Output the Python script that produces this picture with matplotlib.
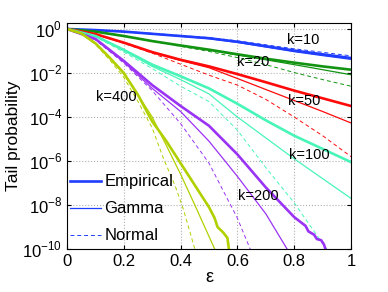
import numpy as np
import matplotlib
matplotlib.use("Agg")
import matplotlib.pyplot as plt

plt.rcParams['font.family'] = ['Liberation Sans', 'DejaVu Sans']
plt.rcParams['mathtext.fontset'] = 'custom'
plt.rcParams['mathtext.rm'] = 'Liberation Sans'

# values (log10 of tail probability)
eps = [0, 0.1, 0.2, 0.3, 0.4, 0.5, 0.6, 0.7, 0.8, 0.9, 1.0]

k10_emp = [0, -0.05, -0.12, -0.22, -0.32, -0.42, -0.58, -0.78, -0.98, -1.15, -1.32]
k10_gam = [0, -0.05, -0.12, -0.22, -0.33, -0.44, -0.61, -0.82, -1.03, -1.21, -1.38]
k10_nrm = [0, -0.05, -0.11, -0.2, -0.3, -0.39, -0.54, -0.72, -0.9, -1.06, -1.22]

k20_emp = [0, -0.12, -0.32, -0.55, -0.75, -0.94, -1.15, -1.35, -1.53, -1.7, -1.85]
k20_gam = [0, -0.12, -0.32, -0.55, -0.76, -0.96, -1.18, -1.4, -1.62, -1.85, -2.08]
k20_nrm = [0, -0.11, -0.3, -0.55, -0.79, -1.02, -1.3, -1.62, -1.98, -2.3, -2.6]

k50_emp = [0, -0.23, -0.62, -1.05, -1.4, -1.7, -2.05, -2.42, -2.8, -3.15, -3.5]
k50_gam = [0, -0.23, -0.63, -1.07, -1.43, -1.76, -2.25, -2.75, -3.25, -3.75, -4.27]
k50_nrm = [0, -0.24, -0.65, -1.1, -1.6, -2.1, -2.55, -3.2, -4.0, -4.85, -5.8]

k100_emp = [0, -0.32, -0.95, -1.62, -2.15, -2.7, -3.4, -4.15, -4.85, -5.45, -6.05]
k100_gam = [0, -0.33, -0.98, -1.7, -2.3, -2.95, -4.0, -4.95, -5.9, -6.8, -7.7]
eps100_nrm = [0, 0.1, 0.2, 0.3, 0.4, 0.5, 0.6, 0.7, 0.8, 0.9, 0.915]
k100_nrm = [0, -0.35, -1.05, -1.8, -2.6, -3.3, -4.6, -6.3, -7.9, -9.75, -10]

eps200_emp = [0, 0.1, 0.2, 0.3, 0.4, 0.5, 0.6, 0.7, 0.8, 0.82, 0.84, 0.85,
              0.87, 0.88, 0.895, 0.905, 0.91]
k200_emp = [0, -0.45, -1.45, -2.55, -3.5, -4.4, -5.7, -7.2, -8.55, -8.75,
            -8.95, -9.2, -9.35, -9.55, -9.6, -9.8, -10]
eps200_gam = [0, 0.1, 0.2, 0.3, 0.4, 0.5, 0.6, 0.7, 0.775]
k200_gam = [0, -0.47, -1.5, -2.7, -3.75, -5.1, -6.7, -8.4, -10]
eps200_nrm = [0, 0.1, 0.2, 0.3, 0.4, 0.5, 0.6, 0.645]
k200_nrm = [0, -0.5, -1.55, -2.8, -4.3, -6.1, -8.6, -10]

eps400_emp = [0, 0.05, 0.1, 0.15, 0.2, 0.25, 0.3, 0.35, 0.4, 0.45, 0.5,
              0.52, 0.53, 0.55, 0.565, 0.57]
k400_emp = [0, -0.2, -0.65, -1.3, -2.0, -3.0, -4.2, -5.1, -6.1, -7.1, -8.1,
            -8.6, -9.0, -9.25, -9.5, -10]
eps400_gam = [0, 0.05, 0.1, 0.15, 0.2, 0.25, 0.3, 0.35, 0.4, 0.45, 0.52]
k400_gam = [0, -0.2, -0.66, -1.32, -2.05, -3.0, -4.0, -5.3, -6.6, -8.0, -10]
eps400_nrm = [0, 0.05, 0.1, 0.15, 0.2, 0.25, 0.3, 0.34, 0.38, 0.41, 0.45]
k400_nrm = [0, -0.21, -0.7, -1.4, -2.2, -3.3, -4.5, -5.9, -7.1, -8.2, -10]

colors = {10: '#1f3dff', 20: '#129412', 50: '#ff0a0a',
          100: '#48f5b8', 200: '#9b33f5', 400: '#b2d000'}

curves = [
    (10, eps, k10_emp, eps, k10_gam, eps, k10_nrm),
    (20, eps, k20_emp, eps, k20_gam, eps, k20_nrm),
    (50, eps, k50_emp, eps, k50_gam, eps, k50_nrm),
    (100, eps, k100_emp, eps, k100_gam, eps100_nrm, k100_nrm),
    (200, eps200_emp, k200_emp, eps200_gam, k200_gam, eps200_nrm, k200_nrm),
    (400, eps400_emp, k400_emp, eps400_gam, k400_gam, eps400_nrm, k400_nrm),
]

# label positions for k=...
labels = {10: (0.83, -0.5), 20: (0.655, -1.5), 50: (0.835, -3.27),
          100: (0.855, -5.73), 200: (0.675, -7.6), 400: (0.175, -3.1)}

fig = plt.figure(figsize=(3.88, 2.92), dpi=100)
ax = fig.add_axes([0.1727, 0.1473, 0.7319, 0.7739])

for k, xe, ye, xg, yg, xn, yn in curves:
    c = colors[k]
    ax.plot(xn, 10 ** np.array(yn, dtype=float), '--', color=c, lw=0.7,
            dashes=(4, 3))
    ax.plot(xg, 10 ** np.array(yg, dtype=float), '-', color=c, lw=0.9)
    ax.plot(xe, 10 ** np.array(ye, dtype=float), '-', color=c, lw=1.9)

for k, (lx, ly) in labels.items():
    ax.text(lx, 10 ** ly, 'k=%d' % k, fontsize=10.5, ha='center',
            va='center')

ax.set_yscale('log')
ax.set_xlim(0, 1)
ax.set_ylim(1e-10, 1.87)
ax.set_xticks([0, 0.2, 0.4, 0.6, 0.8, 1])
ax.set_xticklabels(['0', '0.2', '0.4', '0.6', '0.8', '1'])
yt = [1e-10, 1e-8, 1e-6, 1e-4, 1e-2, 1e0]
ax.set_yticks(yt)
ax.set_yticklabels([r'$10^{%d}$' % e for e in [-10, -8, -6, -4, -2, 0]])
ax.minorticks_off()
ax.tick_params(direction='in', labelsize=12, length=3, top=True, right=True)
ax.grid(True, linestyle=':', color='#b0b0b0', linewidth=0.8)

ax.set_xlabel('ε', fontsize=13, labelpad=0)
ax.set_ylabel('Tail probability', fontsize=12.5, labelpad=1)

# legend
h1, = ax.plot([], [], '-', color=colors[10], lw=1.9)
h2, = ax.plot([], [], '-', color=colors[10], lw=0.9)
h3, = ax.plot([], [], '--', color=colors[10], lw=0.7, dashes=(4, 3))
ax.legend([h1, h2, h3], ['Empirical', 'Gamma', 'Normal'], loc='lower left',
          frameon=False, fontsize=12, handlelength=1.85, handletextpad=0.2,
          labelspacing=0.72, borderaxespad=0.0, borderpad=0.2,
          bbox_to_anchor=(0.0, 0.01))

fig.savefig('out.png', dpi=100)
